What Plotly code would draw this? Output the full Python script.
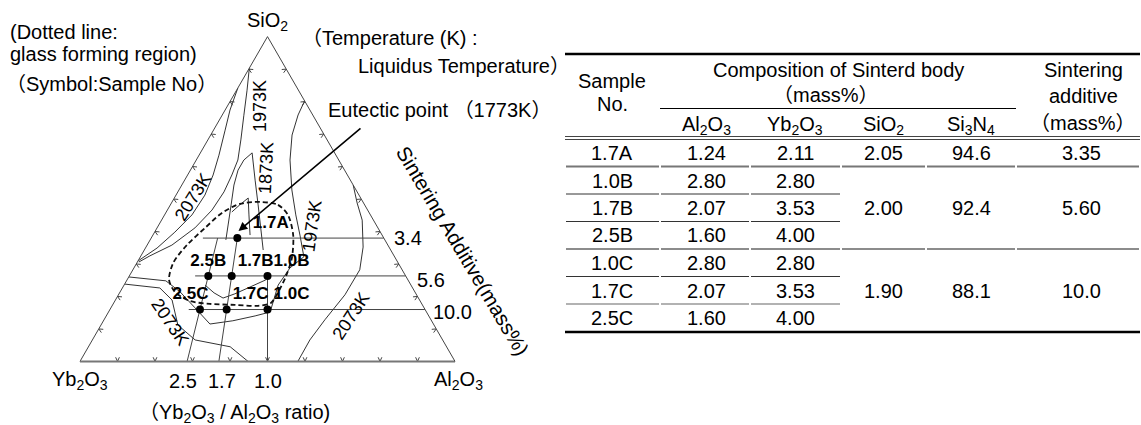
import plotly.graph_objects as go

W, H = 1141, 425
FONT = "Liberation Sans, Arial, Noto Sans CJK JP, sans-serif"

# ---------------- sample table ----------------
sample_no = ["1.7A", "1.0B", "1.7B", "2.5B", "1.0C", "1.7C", "2.5C"]
sample_ratio = [1.7, 1.0, 1.7, 2.5, 1.0, 1.7, 2.5]          # Yb2O3 / Al2O3
sample_group = [0, 1, 1, 1, 2, 2, 2]
al2o3 = [1.24, 2.80, 2.07, 1.60, 2.80, 2.07, 1.60]
yb2o3 = [2.11, 2.80, 3.53, 4.00, 2.80, 3.53, 4.00]
group_sio2 = [2.05, 2.00, 1.90]
group_si3n4 = [94.6, 92.4, 88.1]
group_additive = [3.35, 5.60, 10.0]
group_row = [0, 2, 5]                 # row carrying the merged value

# ---------------- phase diagram (SiO2, Yb2O3, Al2O3 in %) ----------------
iso_2073_upper = [(84.2, 15.8, 0.0), (77.4, 21.3, 1.3), (71.2, 25.7, 3.1), (63.5, 31.2, 5.3),
                  (57.4, 35.8, 6.8), (51.2, 41.1, 7.7), (45.1, 47.6, 7.3), (39.8, 54.8, 5.4),
                  (34.9, 62.0, 3.1), (30.9, 69.1, 0.0)]
iso_1973_left = [(90.3, 9.7, 0.0), (83.5, 13.7, 2.8), (75.8, 18.4, 5.8), (68.2, 23.0, 8.8),
                 (62.0, 26.9, 11.1), (57.4, 30.8, 11.8), (52.2, 35.5, 12.3), (46.6, 41.5, 11.9),
                 (41.1, 48.8, 10.1), (35.8, 57.6, 6.6), (32.5, 65.1, 2.4), (30.6, 69.0, 0.4)]
iso_1873 = [(37.4, 42.4, 20.2), (42.0, 39.5, 18.5), (48.2, 35.6, 16.2), (54.3, 31.8, 13.9),
            (58.9, 28.4, 12.7), (62.0, 25.3, 12.7), (64.2, 22.0, 13.8), (55.8, 25.4, 18.8),
            (48.2, 28.4, 23.4), (40.5, 31.5, 28.0), (34.3, 34.0, 31.7)]
iso_inner = [(46.0, 36.5, 17.5), (48.2, 33.3, 18.5), (50.3, 30.0, 19.7), (45.1, 32.4, 22.5),
             (38.9, 35.2, 25.9)]
iso_eutectic = [(23.5, 54.9, 21.6), (21.1, 53.7, 25.2), (19.5, 52.1, 28.4), (20.8, 48.3, 30.9),
                (22.9, 43.2, 33.9), (25.1, 37.9, 37.0)]
iso_2073_low1 = [(26.0, 74.0, 0.0), (24.8, 64.7, 10.5), (21.4, 62.6, 16.0), (16.5, 61.1, 22.4),
                 (11.5, 59.6, 28.9), (12.5, 53.0, 34.5), (14.0, 46.3, 39.7), (15.2, 41.7, 43.1)]
iso_2073_low2 = [(23.8, 76.2, 0.0), (22.6, 67.4, 10.0), (18.9, 66.0, 15.1), (11.2, 68.3, 20.5),
                 (6.6, 66.0, 27.4), (4.5, 57.7, 37.8), (0.0, 55.2, 44.8)]
iso_2073_right = [(54.3, 0.0, 45.7), (48.8, 1.7, 49.5), (43.5, 3.0, 53.5), (35.2, 6.9, 57.9),
                  (28.2, 11.3, 60.5), (20.5, 19.1, 60.4), (12.8, 28.3, 58.9), (6.6, 35.4, 58.0),
                  (0.0, 41.9, 58.1)]
iso_1973_right = [(80.2, 0.0, 19.8), (75.8, 3.9, 20.2), (69.7, 8.6, 21.7), (62.0, 13.0, 25.0),
                  (52.8, 17.1, 30.1), (45.1, 19.9, 35.0), (38.9, 21.9, 39.2), (32.2, 24.2, 43.6),
                  (28.8, 29.6, 41.6), (23.5, 35.4, 41.1), (15.2, 41.7, 43.1)]
glass_region = [(49.1, 27.5, 23.4), (48.2, 23.1, 28.7), (45.1, 22.0, 32.9), (38.9, 23.7, 37.4),
                (31.8, 27.6, 40.6), (26.3, 31.9, 41.8), (21.1, 36.7, 42.2), (18.0, 40.1, 41.9),
                (17.1, 44.0, 38.9), (17.4, 50.0, 32.6), (17.7, 56.5, 25.8), (18.6, 61.4, 20.0),
                (21.4, 64.0, 14.6), (25.1, 63.7, 11.2), (30.3, 60.0, 9.7), (35.8, 53.6, 10.6),
                (41.1, 46.1, 12.8), (45.7, 39.3, 15.0), (48.5, 33.1, 18.4), (49.1, 27.5, 23.4)]

ratio_lines = [2.5, 1.7, 1.0]         # Yb2O3/Al2O3 ratio guides
ratio_top_group = [0, 0, 1]           # guide reaches this additive level
guide_left_ratio = [3.5, 3.2, 3.0]    # additive guides start at this ratio
tick_vals = [10, 20, 30, 40, 50, 60, 70, 80, 90]

fig = go.Figure()


def tern(points, **kw):
    a, b, c = zip(*points)
    fig.add_trace(go.Scatterternary(a=list(a), b=list(b), c=list(c), mode="lines",
                                    hoverinfo="skip", showlegend=False, **kw))


# chevron tick marks along the three sides (sizes in % of the side length)
S3 = 3 ** 0.5 / 2
TICK_H, TICK_W = 1.1, 0.5


def to_tern(x, y):
    a = y / S3
    c = x - a / 2
    return a, 100 - a - c, c


sides = [
    (lambda t: (t, 0.0), (0.0, 1.0), (1.0, 0.0)),
    (lambda t: (t / 2, t * S3), (S3, -0.5), (0.5, S3)),
    (lambda t: (100 - t / 2, t * S3), (-S3, -0.5), (-0.5, S3)),
]
ta, tb, tc = [], [], []
for apex, n, e in sides:
    for t in tick_vals:
        x0, y0 = apex(t)
        for s in (-1, 0, 1):
            k = 0 if s == 0 else 1
            a, b, c = to_tern(x0 + k * TICK_H * n[0] + s * TICK_W * e[0],
                              y0 + k * TICK_H * n[1] + s * TICK_W * e[1])
            ta.append(a); tb.append(b); tc.append(c)
        ta.append(None); tb.append(None); tc.append(None)
fig.add_trace(go.Scatterternary(a=ta, b=tb, c=tc, mode="lines", line=dict(color="#444", width=1),
                                hoverinfo="skip", showlegend=False))

thin = dict(color="#333", width=1)
for iso in (iso_2073_upper, iso_1973_left, iso_1873, iso_inner, iso_eutectic,
            iso_2073_low1, iso_2073_low2, iso_2073_right, iso_1973_right):
    tern(iso, line=thin)

# constant-additive guides (horizontal) and constant-ratio guides
for g, (s, ad) in enumerate(zip(group_sio2, group_additive)):
    r = guide_left_ratio[g]
    tern([(s, ad * r / (1 + r), ad / (1 + r)), (s, 0.0, ad)], line=dict(color="#444", width=1))
for r, g in zip(ratio_lines, ratio_top_group):
    s, ad = group_sio2[g], group_additive[g]
    tern([(0.0, r, 1.0), (s, ad * r / (1 + r), ad / (1 + r))], line=dict(color="#444", width=1))

# glass forming region
tern(glass_region, line=dict(color="#111", width=1.8, dash="5px,3px", shape="spline", smoothing=0.8))

# samples
pa, pb, pc = [], [], []
for r, g in zip(sample_ratio, sample_group):
    ad = group_additive[g]
    pa.append(group_sio2[g])
    pb.append(ad * r / (1 + r))
    pc.append(ad / (1 + r))
label_pos = {"2.5B": "top center", "2.5C": "top center"}
label_pad = {"1.7A": ("\u00a0\u00a0", ""), "2.5C": ("", "\u00a0" * 4)}
fig.add_trace(go.Scatterternary(
    a=pa, b=pb, c=pc, mode="markers+text",
    text=[label_pad.get(n, ("", ""))[0] + n + label_pad.get(n, ("", ""))[1] for n in sample_no],
    textposition=[label_pos.get(n, "top right") for n in sample_no],
    textfont=dict(family=FONT, size=17, color="black", weight="bold"),
    marker=dict(color="black", size=8), cliponaxis=False,
    hoverinfo="skip", showlegend=False))

axis = dict(showgrid=False, showticklabels=False, ticks="", linecolor="#444", linewidth=1,
            title=dict(text=""))
fig.update_layout(
    width=W, height=H, margin=dict(l=0, r=0, t=0, b=0),
    paper_bgcolor="white", plot_bgcolor="white",
    ternary=dict(domain=dict(x=[80 / W, 455 / W], y=[1 - 361.5 / H, 1 - 36.5 / H]),
                 sum=100, bgcolor="white",
                 aaxis=axis, caxis=axis,
                 baxis=dict(axis, linecolor="#777", linewidth=2)),
    font=dict(family=FONT, color="black"),
)

ann = []


def text(t, x, y, size=20, xanchor="center", angle=0, **kw):
    ann.append(dict(text=t, x=x / W, y=1 - y / H, xref="paper", yref="paper", showarrow=False,
                    xanchor=xanchor, yanchor="middle", textangle=angle,
                    font=dict(family=FONT, size=size, color="black"), **kw))


# diagram captions
text("(Dotted line:", 8, 32, xanchor="left")
text("glass forming region)", 8, 54, xanchor="left")
text("（Symbol:Sample No）", 4, 84, xanchor="left")
text("（Temperature (K) :", 300, 38, xanchor="left")
text("Liquidus Temperature）", 356, 66, xanchor="left")
text("Eutectic point （1773K）", 326, 110, xanchor="left")
text("SiO<sub>2</sub>", 267, 22)
text("Yb<sub>2</sub>O<sub>3</sub>", 80, 380)
text("Al<sub>2</sub>O<sub>3</sub>", 458, 380)
text("（Yb<sub>2</sub>O<sub>3</sub> / Al<sub>2</sub>O<sub>3</sub> ratio)", 234, 413)
text("Sintering Additive(mass%)", 463, 250, size=20.5, angle=59.3)

# isotherm labels
text("2073K", 193, 197, size=18, angle=-58)
text("1973K", 260, 106, size=18, angle=-90)
text("1873K", 266, 168, size=18, angle=-87)
text("1973K", 312, 226, size=18, angle=-82)
text("2073K", 351, 316, size=18, angle=-57)
text("2073K", 170, 322, size=18, angle=56)

# guide values
for r, x in zip(ratio_lines, [183, 222, 268]):
    text(f"{r:.1f}", x, 381)
for ad, (x, y) in zip(group_additive, [(408, 238), (431, 280), (452, 312)]):
    text(f"{ad:.1f}", x, y)

# eutectic pointer
ann.append(dict(x=238.5 / W, y=1 - 231 / H, xref="paper", yref="paper", text="",
                showarrow=True, arrowhead=2, arrowsize=1.1, arrowwidth=1.6, arrowcolor="black",
                ax=123.5, ay=-104, standoff=0))

# ---------------- table ----------------
col_x = [612, 706, 795, 883, 971, 1081]
col_edges = [565, 660, 750, 841, 926, 1016, 1140]
row_y = [153, 180.5, 208, 235.5, 263, 290.5, 318]

text("Sample", 612, 81)
text("No.", 612, 104)
text("Composition of Sinterd body", 838, 70)
text("（mass%）", 826, 95)
text("Sintering", 1083, 70)
text("additive", 1083, 96)
text("（mass%）", 1083, 123)
for t, x in zip(["Al<sub>2</sub>O<sub>3</sub>", "Yb<sub>2</sub>O<sub>3</sub>", "SiO<sub>2</sub>",
                 "Si<sub>3</sub>N<sub>4</sub>"], col_x[1:5]):
    text(t, x, 125)

for i, n in enumerate(sample_no):
    y = row_y[i]
    text(n, col_x[0], y)
    text(f"{al2o3[i]:.2f}", col_x[1], y)
    text(f"{yb2o3[i]:.2f}", col_x[2], y)
for g, row in enumerate(group_row):
    y = row_y[row]
    ad = group_additive[g]
    text(f"{group_sio2[g]:.2f}", col_x[3], y)
    text(f"{group_si3n4[g]:.1f}", col_x[4], y)
    text(f"{ad:.2f}" if ad < 10 else f"{ad:.1f}", col_x[5], y)

shapes = []


def hline(x0, x1, y, width=1, color="black"):
    shapes.append(dict(type="line", xref="paper", yref="paper", x0=x0 / W, x1=x1 / W,
                       y0=1 - y / H, y1=1 - y / H, line=dict(color=color, width=width)))


hline(565, 1140, 54, 2.5)
hline(660, 1016, 108.5, 1.2)
hline(565, 1140, 136.5, 1, "#444")
hline(565, 1140, 139.5, 1, "#444")
hline(565, 1140, 332, 2.5)


def row_rule(y, ncols, width, color):
    for k in range(ncols):
        hline(col_edges[k] + 1, col_edges[k + 1] - 1, y, width, color)


row_rule(166.5, 6, 2, "#777")
row_rule(194, 3, 1, "#333")
row_rule(221.5, 3, 1, "#333")
row_rule(249, 6, 1.5, "#666")
row_rule(276.5, 3, 1, "#333")
row_rule(304, 3, 1.5, "#999")

fig.update_layout(annotations=ann, shapes=shapes)
fig.write_html("out.html")
